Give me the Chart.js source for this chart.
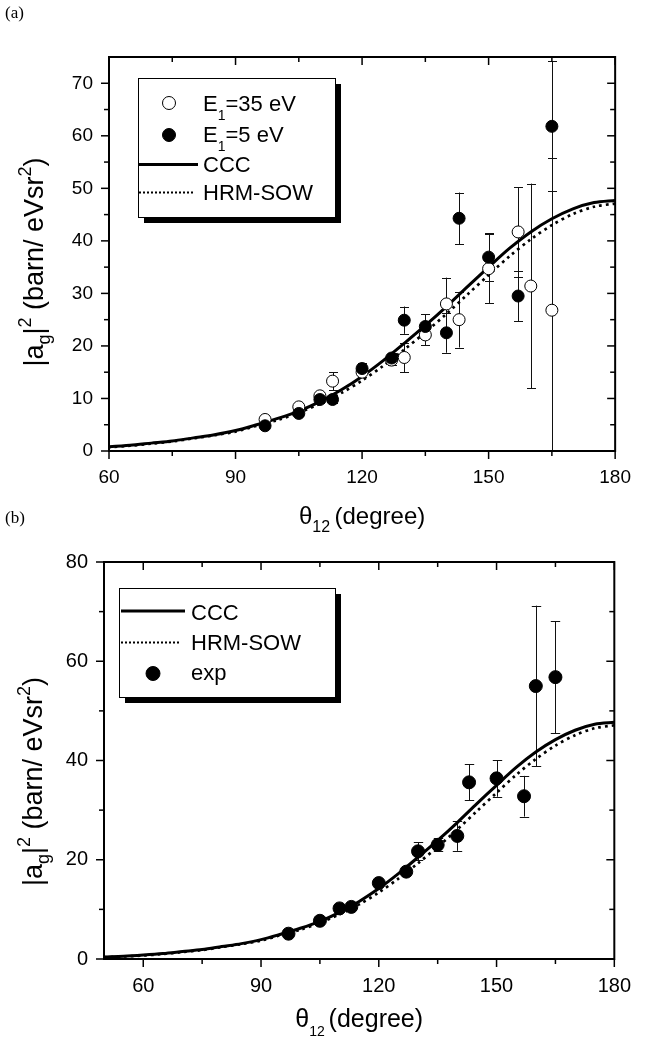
<!DOCTYPE html>
<html><head><meta charset="utf-8">
<script src="https://cdn.jsdelivr.net/npm/chart.js@4.4.0/dist/chart.umd.min.js"></script>
<style>
html,body{margin:0;padding:0;background:#fff;}
#wrap{position:relative;width:646px;height:1039px;overflow:hidden;}
canvas{position:absolute;left:0;}
.plab{position:absolute;font-family:"Liberation Serif","DejaVu Serif",serif;font-size:17px;color:#000;}
</style></head><body>
<div id="wrap">
<canvas id="cb" width="646" height="519" style="top:520px"></canvas>
<canvas id="ca" width="646" height="545" style="top:0"></canvas>
<div class="plab" style="left:5px;top:3px;">(a)</div>
<div class="plab" style="left:5px;top:508px;">(b)</div>
</div>
<script>
// ---------- data: panel (a) ----------
const angA35 = [97, 105, 110, 113, 120, 127, 130, 135, 140, 143, 150, 157, 160, 165];
const valA35 = [6.0, 8.4, 10.5, 13.3, 15.0, 17.3, 17.8, 22.1, 28.0, 25.0, 34.7, 41.7, 31.4, 26.8];
const errA35 = [0.8, 0.8, 0.8, 1.7, 1.0, 1.0, 2.85, 2.0, 5.0, 5.3, 6.6, 8.5, 19.5, 28.9];
const angA5 = [97, 105, 110, 113, 120, 127, 130, 135, 140, 143, 150, 157, 165];
const valA5 = [4.8, 7.15, 9.8, 9.8, 15.7, 17.7, 24.9, 23.7, 22.5, 44.3, 36.9, 29.5, 61.8];
const errA5 = [0.5, 0.5, 0.6, 0.6, 1.0, 1.0, 2.6, 2.3, 3.8, 4.9, 4.6, 4.8, 12.4];
// ---------- data: panel (b) ----------
const angB = [97, 105, 110, 113, 120, 127, 130, 135, 140, 143, 150, 157, 160, 165];
const valB = [5.1, 7.7, 10.2, 10.5, 15.3, 17.6, 21.7, 23.0, 24.8, 35.6, 36.4, 32.8, 55.0, 56.8];
const errB = [0, 0, 0, 0, 0, 0, 1.8, 1.3, 3.0, 3.6, 3.7, 4.1, 16.2, 11.3];
// ---------- theory curves ----------
const angCurve = [50, 55, 60, 65, 70, 75, 80, 85, 90, 95, 100, 105, 110, 115, 120, 125, 130, 135, 140, 145, 150, 155, 160, 165, 170, 175, 180];
const cccCurve = [0.4, 0.55, 0.8, 1.1, 1.5, 1.9, 2.5, 3.1, 3.9, 5.0, 6.2, 7.6, 9.4, 11.6, 14.2, 17.2, 20.5, 23.9, 27.5, 31.3, 35.0, 38.6, 41.7, 44.2, 46.1, 47.3, 47.7];
const hrmCurve = [0.35, 0.5, 0.7, 1.0, 1.4, 1.8, 2.4, 3.0, 3.7, 4.8, 5.9, 7.3, 9.0, 11.0, 13.4, 16.2, 19.3, 22.6, 26.1, 29.8, 33.5, 37.1, 40.3, 43.0, 45.1, 46.5, 47.1];
// ---------- ticks ----------
const xTicksA = [60, 90, 120, 150, 180];
const xMinorA = [75, 105, 135, 165];
const yTicksA = [0, 10, 20, 30, 40, 50, 60, 70];
const yMinorA = [5, 15, 25, 35, 45, 55, 65];
const xTicksB = [60, 90, 120, 150, 180];
const xMinorB = [75, 105, 135, 165];
const yTicksB = [0, 20, 40, 60, 80];
const yMinorB = [10, 30, 50, 70];

const FONT = '"Liberation Sans", Arial, Helvetica, sans-serif';
const pts = (xs, ys) => xs.map((v, i) => ({x: v, y: ys[i]}));

function rich(ctx, parts, x, y, align) {
  let w = 0;
  parts.forEach(p => { ctx.font = p[1] + 'px ' + FONT; w += ctx.measureText(p[0]).width; });
  let cx = align === 'center' ? x - w / 2 : x;
  parts.forEach(p => {
    ctx.font = p[1] + 'px ' + FONT;
    ctx.fillText(p[0], cx, y + p[2]);
    cx += ctx.measureText(p[0]).width;
  });
}

const errPlugin = {
  id: 'errbars',
  beforeDatasetsDraw(chart) {
    const {ctx, chartArea: a, scales: {x, y}} = chart;
    ctx.save();
    ctx.beginPath(); ctx.rect(a.left, a.top, a.right - a.left, a.bottom - a.top); ctx.clip();
    ctx.strokeStyle = '#111'; ctx.lineWidth = 1;
    chart.data.datasets.forEach(ds => {
      if (!ds.errs) return;
      ds.data.forEach((p, i) => {
        const e = ds.errs[i]; if (!e) return;
        const px = Math.round(x.getPixelForValue(p.x)) + 0.5;
        const y1 = y.getPixelForValue(p.y + e), y2 = y.getPixelForValue(p.y - e);
        const c = ds.capHalf || 4.5;
        ctx.beginPath();
        ctx.moveTo(px, y1); ctx.lineTo(px, y2);
        ctx.moveTo(px - c, Math.round(y1) + 0.5); ctx.lineTo(px + c, Math.round(y1) + 0.5);
        ctx.moveTo(px - c, Math.round(y2) + 0.5); ctx.lineTo(px + c, Math.round(y2) + 0.5);
        ctx.stroke();
      });
    });
    ctx.restore();
  }
};

const framePlugin = {
  id: 'frame',
  afterDraw(chart, args, o) {
    const {ctx, chartArea: a, scales: {x, y}} = chart;
    ctx.save();
    ctx.strokeStyle = '#000';
    ctx.lineWidth = 1.5;
    const L = (x1, y1, x2, y2) => { ctx.beginPath(); ctx.moveTo(x1, y1); ctx.lineTo(x2, y2); ctx.stroke(); };
    const doX = (v, len) => { const p = x.getPixelForValue(v); L(p, a.bottom, p, a.bottom + len); L(p, a.top, p, a.top + len); };
    const doY = (v, len) => { const p = y.getPixelForValue(v); L(a.left, p, a.left - len, p); L(a.right, p, a.right - len, p); };
    o.xMajor.forEach(v => doX(v, 8)); o.xMinor.forEach(v => doX(v, 5));
    o.yMajor.forEach(v => doY(v, 8)); o.yMinor.forEach(v => doY(v, 5));
    ctx.lineWidth = 2;
    ctx.strokeRect(a.left, a.top, a.right - a.left, a.bottom - a.top);
    ctx.restore();
  }
};

const titlePlugin = {
  id: 'titles',
  afterDraw(chart, args, o) {
    const {ctx, chartArea: a} = chart;
    ctx.save();
    ctx.fillStyle = '#000'; ctx.textBaseline = 'alphabetic';
    rich(ctx, o.xParts, (a.left + a.right) / 2, o.xY, 'center');
    ctx.translate(o.yX, (a.top + a.bottom) / 2 + o.yShift);
    ctx.rotate(-Math.PI / 2);
    rich(ctx, o.yParts, 0, 0, 'center');
    ctx.restore();
  }
};

const legendPlugin = {
  id: 'legbox',
  afterDraw(chart, args, o) {
    const {ctx} = chart;
    const b = o.box;
    ctx.save();
    ctx.fillStyle = '#000';
    ctx.fillRect(b[0] + 6, b[1] + 6, b[2], b[3]);
    ctx.fillStyle = '#fff';
    ctx.fillRect(b[0], b[1], b[2], b[3]);
    ctx.strokeStyle = '#000'; ctx.lineWidth = 1;
    ctx.strokeRect(b[0] + 0.5, b[1] + 0.5, b[2], b[3]);
    o.items.forEach(it => {
      ctx.strokeStyle = '#000'; ctx.fillStyle = '#000';
      if (it.kind === 'open' || it.kind === 'fill') {
        ctx.beginPath(); ctx.arc(it.sx, it.sy, it.r, 0, Math.PI * 2);
        ctx.fillStyle = it.kind === 'open' ? '#fff' : '#000';
        ctx.fill(); ctx.lineWidth = 1; ctx.stroke();
      } else {
        ctx.beginPath();
        ctx.lineWidth = it.kind === 'solid' ? 3 : 2;
        ctx.setLineDash(it.kind === 'solid' ? [] : [2, 2]);
        ctx.moveTo(it.sx, it.sy); ctx.lineTo(it.ex, it.sy); ctx.stroke();
        ctx.setLineDash([]);
      }
      ctx.fillStyle = '#000';
      rich(ctx, it.parts, it.tx, it.ty, 'left');
    });
    ctx.restore();
  }
};

function scalesFor(xmin, xmax, ymin, ymax, xt, yt, yW, xH, fs, xpad, ypad) {
  return {
    x: {type: 'linear', min: xmin, max: xmax,
        afterBuildTicks: s => { s.ticks = xt.map(v => ({value: v})); },
        afterFit: s => { s.height = xH; },
        grid: {display: false, drawTicks: false}, border: {display: false},
        ticks: {color: '#000', font: {family: FONT, size: fs}, padding: xpad, maxRotation: 0, autoSkip: false}},
    y: {type: 'linear', min: ymin, max: ymax,
        afterBuildTicks: s => { s.ticks = yt.map(v => ({value: v})); },
        afterFit: s => { s.width = yW; },
        grid: {display: false, drawTicks: false}, border: {display: false},
        ticks: {color: '#000', font: {family: FONT, size: fs}, padding: ypad, autoSkip: false}}
  };
}

const curveSets = () => ([
  {label: 'CCC', data: pts(angCurve, cccCurve), showLine: true, pointRadius: 0, borderColor: '#000', borderWidth: 3, tension: 0.3, fill: false},
  {label: 'HRM-SOW', data: pts(angCurve, hrmCurve), showLine: true, pointRadius: 0, borderColor: '#000', borderWidth: 2.7, borderDash: [2.7, 4], tension: 0.3, fill: false}
]);

// ---------- chart (a) ----------
new Chart(document.getElementById('ca'), {
  type: 'scatter',
  data: {datasets: [
    {label: 'E1=5 eV', data: pts(angA5, valA5), errs: errA5, capHalf: 4.5, pointRadius: 6, pointHoverRadius: 6, backgroundColor: '#000', borderColor: '#000', borderWidth: 1},
    {label: 'E1=35 eV', data: pts(angA35, valA35), errs: errA35, capHalf: 4.5, pointRadius: 6, pointHoverRadius: 6, backgroundColor: '#fff', borderColor: '#000', borderWidth: 1},
    ...curveSets()
  ]},
  options: {
    responsive: false, animation: false, events: [],
    layout: {padding: {left: 0, right: 19, top: 57, bottom: 0}},
    scales: scalesFor(60, 180, 0, 75, xTicksA, yTicksA, 109, 94, 19, 15, 16),
    plugins: {
      legend: {display: false}, tooltip: {enabled: false},
      frame: {xMajor: xTicksA, xMinor: xMinorA, yMajor: yTicksA, yMinor: yMinorA},
      titles: {xParts: [['θ', 24, 0], ['12 ', 16, 8], ['(degree)', 24, 0]], xY: 524,
               yParts: [['|a', 27, 0], ['g', 18, 7], ['|', 27, 0], ['2', 18, -12], [' (barn/ eVsr', 27, 0], ['2', 18, -12], [')', 27, 0]],
               yX: 43, yShift: 8},
      legbox: {box: [138, 78, 197, 139], items: [
        {kind: 'open', sx: 169, sy: 103, r: 6.5, tx: 203, ty: 111, parts: [['E', 22, 0], ['1', 14, 9], ['=35 eV', 22, 0]]},
        {kind: 'fill', sx: 169, sy: 135, r: 6.5, tx: 203, ty: 142, parts: [['E', 22, 0], ['1', 14, 9], ['=5 eV', 22, 0]]},
        {kind: 'solid', sx: 139, ex: 198, sy: 164.5, tx: 203, ty: 172, parts: [['CCC', 22, 0]]},
        {kind: 'dot', sx: 139, ex: 195, sy: 192.5, tx: 203, ty: 200, parts: [['HRM-SOW', 22, 0]]}
      ]}
    }
  },
  plugins: [errPlugin, framePlugin, titlePlugin, legendPlugin]
});

// ---------- chart (b) ----------
new Chart(document.getElementById('cb'), {
  type: 'scatter',
  data: {datasets: [
    {label: 'exp', data: pts(angB, valB), errs: errB, capHalf: 4.7, pointRadius: 6.5, pointHoverRadius: 6.5, backgroundColor: '#000', borderColor: '#000', borderWidth: 1},
    ...curveSets()
  ]},
  options: {
    responsive: false, animation: false, events: [],
    layout: {padding: {left: 0, right: 21, top: 42, bottom: 0}},
    scales: scalesFor(50, 180, 0, 80, xTicksB, yTicksB, 104, 80, 20, 15, 16),
    plugins: {
      legend: {display: false}, tooltip: {enabled: false},
      frame: {xMajor: xTicksB, xMinor: xMinorB, yMajor: yTicksB, yMinor: yMinorB},
      titles: {xParts: [['θ', 25, 0], ['12 ', 14, 9], ['(degree)', 25, 0]], xY: 507,
               yParts: [['|a', 27, 0], ['g', 18, 7], ['|', 27, 0], ['2', 18, -12], [' (barn/ eVsr', 27, 0], ['2', 18, -12], [')', 27, 0]],
               yX: 42, yShift: 21},
      legbox: {box: [119, 68, 216, 109], items: [
        {kind: 'solid', sx: 121, ex: 185, sy: 91, tx: 191, ty: 100, parts: [['CCC', 22, 0]]},
        {kind: 'dot', sx: 121, ex: 181, sy: 122.5, tx: 191, ty: 130, parts: [['HRM-SOW', 22, 0]]},
        {kind: 'fill', sx: 153, sy: 153.5, r: 7, tx: 191, ty: 160, parts: [['exp', 22, 0]]}
      ]}
    }
  },
  plugins: [errPlugin, framePlugin, titlePlugin, legendPlugin]
});
</script>
</body></html>
